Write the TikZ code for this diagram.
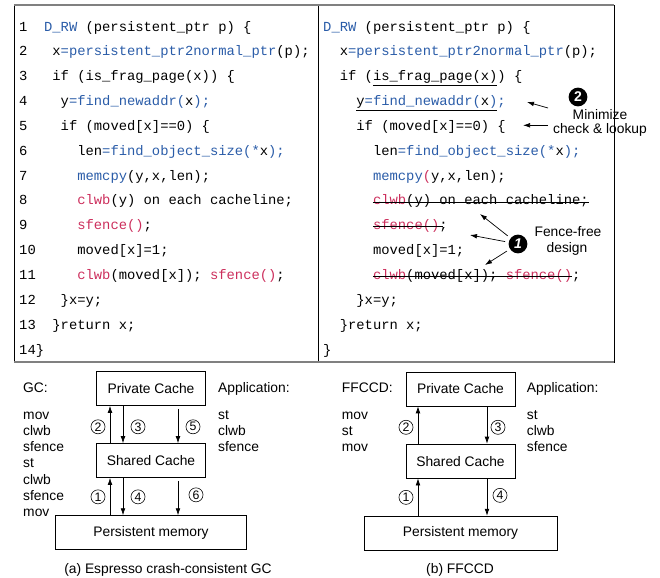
\documentclass[tikz,border=0pt]{standalone}
\usepackage{fontspec}
\usepackage{tikz}
\usetikzlibrary{arrows.meta,positioning,calc}

\newfontfamily\codefont{Liberation Mono}
\newfontfamily\labelfont{Liberation Sans}
\definecolor{fnblue}{RGB}{42,92,168}
\definecolor{fnred}{RGB}{204,46,92}
\newcommand{\fb}[1]{\textcolor{fnblue}{#1}}
\newcommand{\fr}[1]{\textcolor{fnred}{#1}}

\begin{document}
\begin{tikzpicture}[x=0.03cm, y=-0.03cm,
	code/.style={anchor=base west, inner sep=0pt, font=\codefont\fontsize{11.8}{14}\selectfont},
	lbl/.style={anchor=base west, inner sep=0pt, font=\labelfont\fontsize{11.8}{14}\selectfont},
	box/.style={draw, line width=0.5pt, inner sep=0pt, minimum width=93pt, minimum height=29pt, font=\labelfont\fontsize{11.8}{14}\selectfont},
	num/.style={draw, circle, line width=0.5pt, inner sep=0pt, minimum size=12pt, font=\labelfont\fontsize{10.5}{12}\selectfont},
	ball/.style={circle, fill=black, text=white, inner sep=0pt, minimum size=16pt, font=\labelfont\bfseries\fontsize{12}{12}\selectfont},
	arr/.style={-{Latex[length=6pt,width=4pt]}, line width=0.6pt},
	strike/.style={line width=0.7pt},
	node distance=32pt]
	\useasboundingbox (0,0) rectangle (660,577);
	
	\draw[line width=0.8pt] (14,5) rectangle (614,362);
	\draw[line width=0.8pt] (318,5) -- (318,362);
	\draw[gray, line width=1.6pt] (14,5) -- (614,5);
	\draw[gray, line width=1.6pt] (14,362) -- (614,362);
	
	\foreach \i in {1,...,14}
		\node[code] (ln\i) at (19,{31+24.85*(\i-1)}) {\i};
	
	\node[code] (la1) at (43.9,31) {\fb{D\_RW} (persistent\_ptr p) \{};
	\node[code] (la2) at (52.2,55.85) {x\fb{=persistent\_ptr2normal\_ptr}(p);};
	\node[code] (la3) at (52.2,80.7) {if (is\_frag\_page(x)) \{};
	\node[code] (la4) at (60.5,105.55) {y\fb{=find\_newaddr(}x\fb{);}};
	\node[code] (la5) at (60.5,130.4) {if (moved[x]==0) \{};
	\node[code] (la6) at (77.1,155.25) {len\fb{=find\_object\_size(*}x\fb{);}};
	\node[code] (la7) at (77.1,180.1) {\fb{memcpy}(y,x,len);};
	\node[code] (la8) at (77.1,204.95) {\fr{clwb}(y) on each cacheline;};
	\node[code] (la9) at (77.1,229.8) {\fr{sfence()};};
	\node[code] (la10) at (77.1,254.65) {moved[x]=1;};
	\node[code] (la11) at (77.1,279.5) {\fr{clwb}(moved[x]); \fr{sfence()};};
	\node[code] (la12) at (60.5,304.35) {\}x=y;};
	\node[code] (la13) at (52.2,329.2) {\}return x;};
	\node[code] (la14) at (35.6,354.05) {\}};
	
	\node[code] (lb1) at (323,31) {\fb{D\_RW} (persistent\_ptr p) \{};
	\node[code] (lb2) at (339.6,55.85) {x\fb{=persistent\_ptr2normal\_ptr}(p);};
	\node[code] (lb3) at (339.6,80.7) {if (is\_frag\_page(x)) \{};
	\node[code] (lb4) at (356.2,105.55) {y\fb{=find\_newaddr(}x\fb{);}};
	\node[code] (lb5) at (356.2,130.4) {if (moved[x]==0) \{};
	\node[code] (lb6) at (372.8,155.25) {len\fb{=find\_object\_size(*}x\fb{);}};
	\node[code] (lb7) at (372.8,180.1) {\fb{memcpy}\fr{(}y,x,len);};
	\node[code] (lb8) at (372.8,204.95) {\fr{clwb}(y) on each cacheline;};
	\node[code] (lb9) at (372.8,229.8) {\fr{sfence()};};
	\node[code] (lb10) at (372.8,254.65) {moved[x]=1;};
	\node[code] (lb11) at (372.8,279.5) {\fr{clwb}(moved[x]); \fr{sfence()};};
	\node[code] (lb12) at (356.2,304.35) {\}x=y;};
	\node[code] (lb13) at (339.6,329.2) {\}return x;};
	\node[code] (lb14) at (323,354.05) {\}};
	
	\draw[strike] ($(lb3.base west)+(33.2,4.5)$) -- ++(124.5,0);
	\draw[strike] ($(lb4.base west)+(0,4.5)$) -- ++(141.1,0);
	\draw[strike] ($(lb8.base west)+(0,-3)$) -- ($(lb8.base east)+(0,-3)$);
	\draw[strike] ($(lb9.base west)+(0,-3)$) -- ++(70,0);
	\draw[strike] ($(lb11.base west)+(0,-3)$) -- ++(199.2,0);
	
	\node[ball] (b2) at (578,97) {2};
	\node[lbl, anchor=base] (min) at (600,119.5) {Minimize};
	\node[lbl, anchor=base] (chk) at (600,133.5) {check \& lookup};
	\coordinate (q4) at (548,108);
	\coordinate (q5) at (548,125.3);
	\coordinate (p4) at (527,102);
	\coordinate (p5) at (523,125.3);
	\draw[arr] (q4) -- (p4);
	\draw[arr] (q5) -- (p5);
	
	\node[ball] (b1) at (518,244) {\itshape 1};
	\node[lbl, anchor=base] (ff) at (568,236.7) {Fence-free};
	\node[lbl, anchor=base] (dsg) at (567,252.3) {design};
	\coordinate (p8) at (480,214);
	\coordinate (p9) at (470,235);
	\coordinate (p11) at (485,265);
	\draw[arr, shorten <=3pt] (b1) -- (p8);
	\draw[arr, shorten <=3pt] (b1) -- (p9);
	\draw[arr, shorten <=3pt] (b1) -- (p11);
	
	% (a) Espresso
	\node[box] (pc1) at (151,388.5) {Private Cache};
	\node[box, below=of pc1] (sc1) {Shared Cache};
	\node[box, below=of sc1, minimum width=163pt] (pm1) {Persistent memory};
	
	\node[lbl] (gc) at (23,392) {GC:};
	\foreach \t [count=\i] in {mov,clwb,sfence,st,clwb,sfence,mov}
		\node[lbl] (g\i) at (23,{419+16.3*(\i-1)}) {\t};
	\node[lbl] (app1) at (218,392) {Application:};
	\foreach \t [count=\i] in {st,clwb,sfence}
		\node[lbl] (a\i) at (218,{419+16.3*(\i-1)}) {\t};
	
	\draw[arr] ($(sc1.north)+(-41,0)$) -- ($(pc1.south)+(-41,0)$);
	\draw[arr] ($(pc1.south)+(-28,0)$) -- ($(sc1.north)+(-28,0)$);
	\draw[arr] ($(pc1.south)+(27,3)$) -- ($(sc1.north)+(27,0)$);
	\draw[arr] ($(pm1.north)+(-41,0)$) -- ($(sc1.south)+(-41,0)$);
	\draw[arr] ($(sc1.south)+(-28,0)$) -- ($(pm1.north)+(-28,0)$);
	\draw[arr] ($(sc1.south)+(27,3)$) -- ($(pm1.north)+(27,0)$);
	
	\node[num] (ga2) at ($(pc1.south)+(-53,21)$) {2};
	\node[num] (ga3) at ($(pc1.south)+(-13,21)$) {3};
	\node[num] (ga5) at ($(pc1.south)+(42,21)$) {5};
	\node[num] (ga1) at ($(sc1.south)+(-53,19)$) {1};
	\node[num] (ga4) at ($(sc1.south)+(-13,19)$) {4};
	\node[num] (ga6) at ($(sc1.south)+(45,17)$) {6};
	
	\node[lbl, anchor=base] (capa) at (168,573) {(a) Espresso crash-consistent GC};
	
	% (b) FFCCD
	\node[box] (pc2) at (460.5,389) {Private Cache};
	\node[box, below=of pc2] (sc2) {Shared Cache};
	\node[box, below=of sc2, minimum width=164.5pt] (pm2) {Persistent memory};
	
	\node[lbl] (ff2) at (341.7,392) {FFCCD:};
	\foreach \t [count=\i] in {mov,st,mov}
		\node[lbl] (h\i) at (341.7,{419+16.3*(\i-1)}) {\t};
	\node[lbl] (app2) at (526.7,392) {Application:};
	\foreach \t [count=\i] in {st,clwb,sfence}
		\node[lbl] (k\i) at (526.7,{419+16.3*(\i-1)}) {\t};
	
	\draw[arr] ($(sc2.north)+(-42.5,0)$) -- ($(pc2.south)+(-42.5,0)$);
	\draw[arr] ($(pc2.south)+(26.5,0)$) -- ($(sc2.north)+(26.5,0)$);
	\draw[arr] ($(pm2.north)+(-42.5,0)$) -- ($(sc2.south)+(-42.5,0)$);
	\draw[arr] ($(sc2.south)+(26.5,0)$) -- ($(pm2.north)+(26.5,0)$);
	
	\node[num] (gb2) at ($(pc2.south)+(-54.5,21)$) {2};
	\node[num] (gb3) at ($(pc2.south)+(37.5,21)$) {3};
	\node[num] (gb1) at ($(sc2.south)+(-54.5,19)$) {1};
	\node[num] (gb4) at ($(sc2.south)+(39.5,17)$) {4};
	
	\node[lbl, anchor=base] (capb) at (460,573) {(b) FFCCD};
\end{tikzpicture}
\end{document}
